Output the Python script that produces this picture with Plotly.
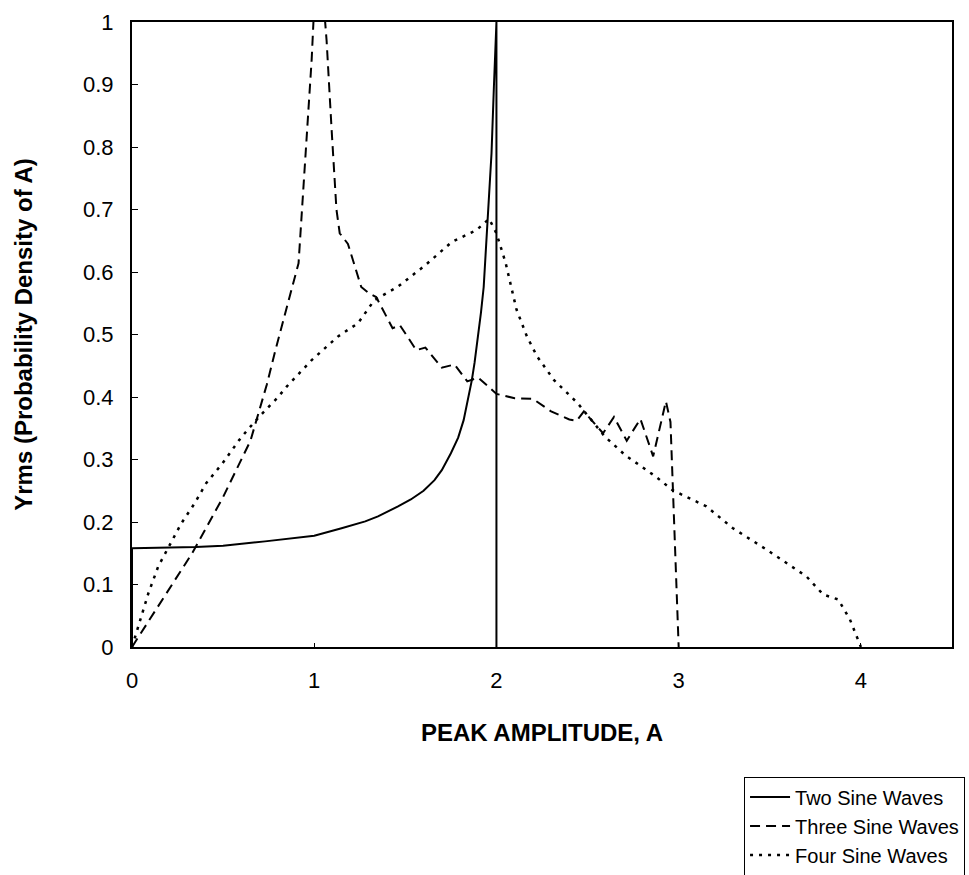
import plotly.graph_objects as go

# Peak amplitude A (x) and probability density of A (y) for each series
two_x = [0, 0, 0.35, 0.5, 0.73, 1.0, 1.15, 1.28, 1.35, 1.4, 1.46, 1.53, 1.55, 1.6, 1.66,
         1.7, 1.75, 1.79, 1.82, 1.84, 1.865, 1.88, 1.90, 1.915, 1.93, 1.94, 1.955, 1.973,
         1.986, 1.997, 2.0, 2.0]
two_y = [0, 0.158, 0.160, 0.162, 0.169, 0.178, 0.19, 0.201, 0.209, 0.216, 0.225, 0.236,
         0.240, 0.25, 0.267, 0.283, 0.31, 0.335, 0.363, 0.39, 0.427, 0.455, 0.496, 0.535,
         0.576, 0.625, 0.683, 0.79, 0.896, 0.992, 1.0, 0]

three_x = [0, 0.2, 0.33, 0.5, 0.65, 0.74, 0.787, 0.914, 0.986, 1.02, 1.068, 1.095, 1.122,
           1.14, 1.185, 1.258, 1.30, 1.34, 1.43, 1.47, 1.56, 1.61, 1.70, 1.77, 1.84, 1.90,
           2.0, 2.1, 2.2, 2.3, 2.4, 2.44, 2.48, 2.585, 2.645, 2.715, 2.79, 2.86, 2.93,
           2.955, 3.0]
three_y = [0, 0.092, 0.15, 0.24, 0.33, 0.42, 0.475, 0.614, 0.94, 1.15, 0.97, 0.83, 0.70,
           0.662, 0.645, 0.576, 0.566, 0.56, 0.51, 0.515, 0.475, 0.479, 0.447, 0.452, 0.425,
           0.431, 0.405, 0.398, 0.397, 0.377, 0.364, 0.362, 0.377, 0.342, 0.368, 0.33,
           0.365, 0.305, 0.393, 0.36, 0]

four_x = [0, 0.036, 0.09, 0.144, 0.208, 0.271, 0.344, 0.407, 0.497, 0.588, 0.633, 0.706,
          0.796, 0.85, 0.986, 1.131, 1.24, 1.33, 1.457, 1.61, 1.755, 1.89, 1.96, 2.0, 2.05,
          2.11, 2.167, 2.223, 2.316, 2.446, 2.594, 2.706, 2.873, 2.966, 3.152, 3.298,
          3.481, 3.701, 3.793, 3.876, 3.94, 4.0]
four_y = [0, 0.033, 0.086, 0.129, 0.164, 0.198, 0.23, 0.262, 0.294, 0.331, 0.347, 0.371,
          0.398, 0.417, 0.459, 0.497, 0.518, 0.555, 0.576, 0.611, 0.648, 0.667, 0.685,
          0.662, 0.615, 0.54, 0.497, 0.465, 0.427, 0.39, 0.337, 0.307, 0.273, 0.251, 0.225,
          0.19, 0.156, 0.113, 0.084, 0.076, 0.044, 0]

series_names = ["Two Sine Waves", "Three Sine Waves", "Four Sine Waves"]
x_ticks = [0, 1, 2, 3, 4]

FONT = "Liberation Sans, Arial, sans-serif"

fig = go.Figure()
fig.add_trace(go.Scatter(x=two_x, y=two_y, mode="lines", name=series_names[0],
                         line=dict(color="black", width=2, dash="solid")))
fig.add_trace(go.Scatter(x=three_x, y=three_y, mode="lines", name=series_names[1],
                         line=dict(color="black", width=2, dash="10px,6px")))
fig.add_trace(go.Scatter(x=four_x, y=four_y, mode="lines", name=series_names[2],
                         line=dict(color="black", width=2.5, dash="3px,6px")))

axis_common = dict(
    showline=True, linecolor="black", linewidth=2, mirror=True,
    showgrid=False, zeroline=False, ticks="inside", tickcolor="black",
    tickfont=dict(family=FONT, size=22, color="black"),
)

fig.update_layout(
    width=969, height=875,
    margin=dict(l=132, r=17, t=22, b=228, autoexpand=False),
    paper_bgcolor="white", plot_bgcolor="white",
    xaxis=dict(range=[0, 4.5], tickvals=x_ticks, ticklen=4, ticklabelstandoff=13,
               title=dict(text="PEAK AMPLITUDE, A", standoff=32,
                          font=dict(family=FONT, size=24, color="black", weight="bold")),
               **axis_common),
    yaxis=dict(range=[0, 1], dtick=0.1, ticklen=6, ticklabelstandoff=12,
               title=dict(text="Yrms (Probability Density of A)", standoff=44,
                          font=dict(family=FONT, size=24, color="black", weight="bold")),
               **axis_common),
    legend=dict(x=1.0159, xanchor="right", y=-0.2073, yanchor="top",
                bordercolor="black", borderwidth=1, bgcolor="white",
                itemwidth=40, font=dict(family=FONT, size=20, color="black")),
    showlegend=True,
)

fig.write_html("out.html")
